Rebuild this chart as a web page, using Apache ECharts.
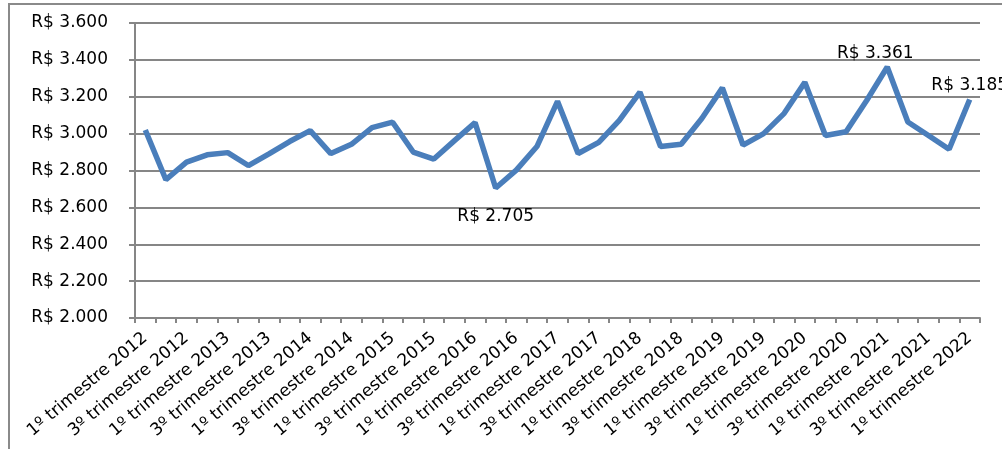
<!DOCTYPE html>
<html>
<head>
<meta charset="utf-8">
<script src="https://cdn.jsdelivr.net/npm/echarts@6/dist/echarts.min.js"></script>
<style>
  html, body { margin: 0; padding: 0; background: #fff; }
  #chart { width: 1002px; height: 449px; }
</style>
</head>
<body>
<div id="chart"></div>
<script>
// quarters 2012 Q1 .. 2022 Q1
const years = [2012, 2013, 2014, 2015, 2016, 2017, 2018, 2019, 2020, 2021, 2022];
const quarters = ['1º', '2º', '3º', '4º'];
const categories = [];
years.forEach(y => {
  quarters.forEach(q => {
    if (y < 2022 || q === '1º') categories.push(q + ' trimestre ' + y);
  });
});

const values = [
  3020, 2750, 2845, 2885, 2897, 2827, 2890, 2957, 3016, 2892,
  2942, 3033, 3062, 2900, 2862, 2962, 3060, 2705, 2802, 2930,
  3175, 2892, 2953, 3072, 3225, 2930, 2942, 3082, 3248, 2938,
  3000, 3110, 3278, 2990, 3010, 3180, 3361, 3063, 2990, 2915,
  3185
];

// points that carry a value label
const labelled = { 17: 'bottom', 36: 'top', 40: 'top' };

function brl(v) {
  return 'R$ ' + String(v).replace(/\B(?=(\d{3})+(?!\d))/g, '.');
}

const chart = echarts.init(document.getElementById('chart'));

const seriesData = values.map((v, i) => {
  if (!labelled[i]) return v;
  return {
    value: v,
    label: {
      show: true,
      position: labelled[i],
      distance: labelled[i] === 'bottom' ? 20 : 5,
      offset: i === 36 ? [-12, 0] : [0, 0]
    }
  };
});

chart.setOption({
  animation: false,
  textStyle: { fontFamily: 'DejaVu Sans' },
  graphic: [{
    type: 'rect',
    shape: { x: 9, y: 4, width: 1010, height: 470 },
    style: { fill: 'none', stroke: '#8a8a8a', lineWidth: 2 },
    silent: true
  }],
  grid: { left: 135, right: 22, top: 23, bottom: 131 },
  xAxis: {
    type: 'category',
    data: categories,
    boundaryGap: true,
    axisLine: { lineStyle: { color: '#868686', width: 2 } },
    axisTick: { show: true, interval: 0, length: 5, lineStyle: { color: '#868686', width: 2 } },
    axisLabel: {
      interval: 1,
      rotate: 40,
      margin: 18,
      color: '#000',
      fontSize: 17,
      fontFamily: 'DejaVu Sans'
    }
  },
  yAxis: {
    type: 'value',
    min: 2000,
    max: 3600,
    interval: 200,
    axisLine: { show: true, lineStyle: { color: '#868686', width: 2 } },
    axisTick: { show: true, length: 6, lineStyle: { color: '#868686', width: 2 } },
    splitLine: { lineStyle: { color: '#868686', width: 2 } },
    axisLabel: {
      margin: 27,
      color: '#000',
      fontSize: 17,
      fontFamily: 'DejaVu Sans',
      formatter: v => brl(v)
    }
  },
  series: [{
    type: 'line',
    data: seriesData,
    symbol: 'circle',
    symbolSize: 0,
    showSymbol: true,
    lineStyle: { color: '#4a7ebb', width: 5.5 },
    itemStyle: { color: '#4a7ebb' },
    label: {
      show: false,
      color: '#000',
      fontSize: 17,
      fontFamily: 'DejaVu Sans',
      formatter: p => brl(p.value)
    }
  }]
});
</script>
</body>
</html>
